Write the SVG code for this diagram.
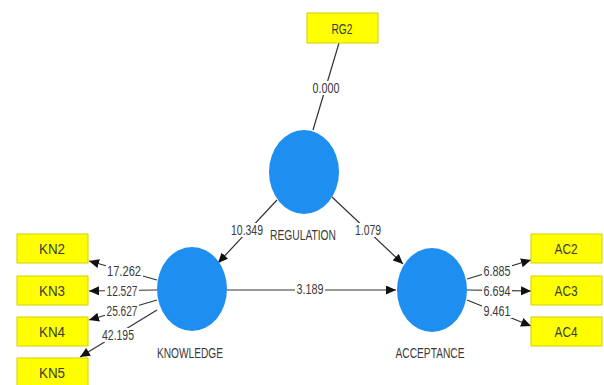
<svg xmlns="http://www.w3.org/2000/svg" width="604" height="385" viewBox="0 0 604 385">
<style>
.box{fill:#ffff00;stroke:#d2d200;stroke-width:1}
.lv{fill:#1e8ff0}
.t{font-family:"Liberation Sans",Arial,sans-serif;font-size:14px;fill:#3a3a3a;text-anchor:middle}
.n{font-family:"Liberation Sans",Arial,sans-serif;font-size:14px;fill:#3a3a3a;text-anchor:middle}
.bg{fill:#fff}
.c{stroke:#333;stroke-width:1.2;fill:none}
</style>
<defs>
<marker id="ah" markerUnits="userSpaceOnUse" markerWidth="11" markerHeight="9" refX="10" refY="4.5" orient="auto">
<path d="M0,0 L10,4.5 L0,9 Z" fill="#111"/>
</marker>
</defs>
<rect width="604" height="385" fill="#fff"/>
<g id="connectors">
<line class="c" x1="339" y1="43" x2="313" y2="130"/>
<line class="c" x1="277" y1="200" x2="218" y2="263" marker-end="url(#ah)"/>
<line class="c" x1="332" y1="197" x2="403" y2="264" marker-end="url(#ah)"/>
<line class="c" x1="227" y1="290" x2="396" y2="290" marker-end="url(#ah)"/>
<line class="c" x1="157" y1="280" x2="89" y2="261" marker-end="url(#ah)"/>
<line class="c" x1="157" y1="290" x2="89" y2="291" marker-end="url(#ah)"/>
<line class="c" x1="157" y1="300" x2="89" y2="320" marker-end="url(#ah)"/>
<line class="c" x1="157" y1="310" x2="80" y2="357" marker-end="url(#ah)"/>
<line class="c" x1="467" y1="279" x2="531" y2="260" marker-end="url(#ah)"/>
<line class="c" x1="467" y1="290" x2="531" y2="291" marker-end="url(#ah)"/>
<line class="c" x1="467" y1="300" x2="531" y2="326" marker-end="url(#ah)"/>
<rect class="bg" x="311" y="81" width="31" height="14"/>
<rect class="bg" x="230" y="223" width="35" height="14"/>
<rect class="bg" x="354" y="223" width="29" height="14"/>
<rect class="bg" x="295" y="282" width="30" height="14"/>
<rect class="bg" x="106" y="264" width="37" height="14"/>
<rect class="bg" x="105" y="284" width="34" height="14"/>
<rect class="bg" x="105" y="304" width="34" height="14"/>
<rect class="bg" x="101" y="328" width="35" height="14"/>
<rect class="bg" x="482" y="264" width="30" height="14"/>
<rect class="bg" x="482" y="284" width="30" height="14"/>
<rect class="bg" x="482" y="304" width="30" height="14"/>
<text class="n" x="326" y="93" textLength="27" lengthAdjust="spacingAndGlyphs">0.000</text>
<text class="n" x="247" y="235" textLength="32" lengthAdjust="spacingAndGlyphs">10.349</text>
<text class="n" x="368" y="235" textLength="26" lengthAdjust="spacingAndGlyphs">1.079</text>
<text class="n" x="310" y="294" textLength="27" lengthAdjust="spacingAndGlyphs">3.189</text>
<text class="n" x="124" y="276" textLength="34" lengthAdjust="spacingAndGlyphs">17.262</text>
<text class="n" x="122" y="296" textLength="31" lengthAdjust="spacingAndGlyphs">12.527</text>
<text class="n" x="122" y="316" textLength="31" lengthAdjust="spacingAndGlyphs">25.627</text>
<text class="n" x="118" y="340" textLength="32" lengthAdjust="spacingAndGlyphs">42.195</text>
<text class="n" x="497" y="276" textLength="27" lengthAdjust="spacingAndGlyphs">6.885</text>
<text class="n" x="497" y="296" textLength="27" lengthAdjust="spacingAndGlyphs">6.694</text>
<text class="n" x="497" y="316" textLength="27" lengthAdjust="spacingAndGlyphs">9.461</text>
</g>
<g id="RG2"><rect class="box" x="307" y="13" width="71" height="30"/><text class="t" x="342" y="34" textLength="21" lengthAdjust="spacingAndGlyphs">RG2</text></g>
<g id="REGULATION"><ellipse class="lv" cx="304" cy="172" rx="35" ry="42"/><text class="t" x="303" y="240" textLength="66" lengthAdjust="spacingAndGlyphs">REGULATION</text></g>
<g id="KNOWLEDGE"><ellipse class="lv" cx="192" cy="289" rx="35" ry="42"/><text class="t" x="190" y="358" textLength="66" lengthAdjust="spacingAndGlyphs">KNOWLEDGE</text></g>
<g id="ACCEPTANCE"><ellipse class="lv" cx="432" cy="290" rx="35" ry="42"/><text class="t" x="430" y="358" textLength="69" lengthAdjust="spacingAndGlyphs">ACCEPTANCE</text></g>
<g id="KN2"><rect class="box" x="17" y="234" width="71" height="29"/><text class="t" x="52" y="254" textLength="26" lengthAdjust="spacingAndGlyphs">KN2</text></g>
<g id="KN3"><rect class="box" x="17" y="276" width="71" height="29"/><text class="t" x="52" y="296" textLength="26" lengthAdjust="spacingAndGlyphs">KN3</text></g>
<g id="KN4"><rect class="box" x="17" y="317" width="71" height="29"/><text class="t" x="52" y="337" textLength="26" lengthAdjust="spacingAndGlyphs">KN4</text></g>
<g id="KN5"><rect class="box" x="17" y="358" width="71" height="29"/><text class="t" x="52" y="378" textLength="26" lengthAdjust="spacingAndGlyphs">KN5</text></g>
<g id="AC2"><rect class="box" x="531" y="234" width="71" height="29"/><text class="t" x="566" y="254" textLength="23" lengthAdjust="spacingAndGlyphs">AC2</text></g>
<g id="AC3"><rect class="box" x="531" y="276" width="71" height="29"/><text class="t" x="566" y="296" textLength="23" lengthAdjust="spacingAndGlyphs">AC3</text></g>
<g id="AC4"><rect class="box" x="531" y="317" width="71" height="29"/><text class="t" x="566" y="337" textLength="23" lengthAdjust="spacingAndGlyphs">AC4</text></g>
</svg>
